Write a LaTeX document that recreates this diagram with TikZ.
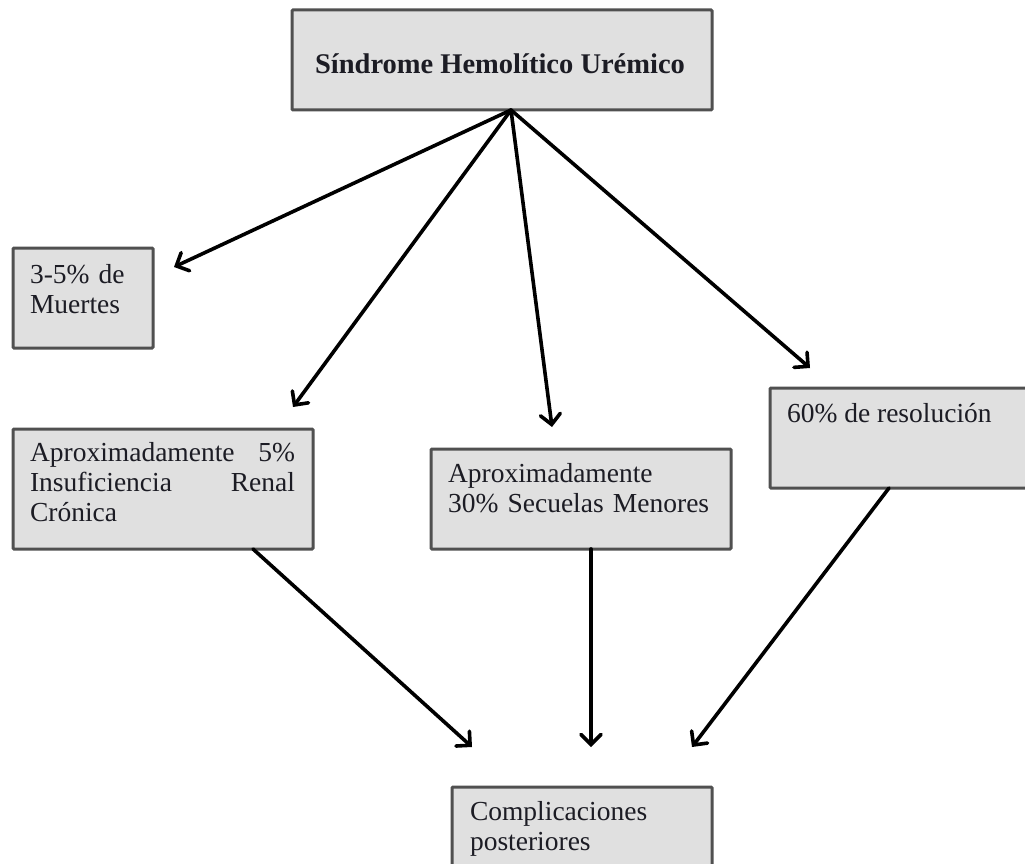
\documentclass[tikz,border=0pt]{standalone}
\usepackage{fontspec}
\setmainfont{Liberation Serif}
\usetikzlibrary{arrows.meta}
\definecolor{boxfill}{HTML}{E0E0E0}
\definecolor{boxline}{HTML}{505050}
\definecolor{txt}{HTML}{1C1C24}
\begin{document}
\begin{tikzpicture}[x=1pt,y=-1pt,
  box/.style={draw=boxline, fill=boxfill, line width=3pt, rectangle, inner sep=0pt, outer sep=0pt, anchor=north west, rounded corners=1pt},
  lbl/.style={anchor=base west, inner sep=0pt, outer sep=0pt, text=txt, font=\fontsize{27.5}{30}\selectfont, align=left},
  arr/.style={line width=3.6pt, line cap=round, -{Straight Barb[length=10pt,width=20pt,line cap=round]}}]
\useasboundingbox (0,0) rectangle (1025,864);
\clip (0,0) rectangle (1025,864);
\fill[white] (0,0) rectangle (1025,864);

% boxes
\node[box, minimum width=420pt, minimum height=100pt] (top) at (292,10) {};
\node[box, minimum width=140pt, minimum height=100pt] (muertes) at (13,248) {};
\node[box, minimum width=300pt, minimum height=120pt] (aprox) at (13,429) {};
\node[box, minimum width=300pt, minimum height=100pt] (secuelas) at (431,449) {};
\node[box, minimum width=300pt, minimum height=100pt] (resol) at (770,388) {};
\node[box, minimum width=260pt, minimum height=120pt] (compl) at (452,787) {};

% texts
\node[lbl, anchor=base, font=\fontsize{28.5}{30}\selectfont\bfseries] (ttop) at (500,74) {Síndrome Hemolítico Urémico};
\node[lbl, text width=120pt] (tmuertes) at (30,283) {3-5\% de\\Muertes};
\node[lbl, text width=265pt] (taprox) at (30,461) {\makebox[265pt][l]{Aproximadamente\hfill 5\%}\\\makebox[265pt][l]{Insuficiencia\hfill Renal}\\Crónica};
\node[lbl, text width=280pt] (tsecuelas) at (448,482) {Aproximadamente\\30\% Secuelas Menores};
\node[lbl] (tresol) at (787,422) {60\% de resolución};
\node[lbl, text width=240pt] (tcompl) at (470,820) {Complicaciones\\posteriores};

% free arrow ends
\coordinate (tipM) at (174,267);
\coordinate (tipA) at (293,407);
\coordinate (tipS) at (552,427);
\coordinate (tipR) at (810,368);
\coordinate (tipC1) at (472,747);
\coordinate (tipC2) at (591,747);
\coordinate (tipC3) at (692,747);

% connectors
\draw[arr] ([xshift=9pt]top.south) -- (tipM);
\draw[arr] ([xshift=9pt]top.south) -- (tipA);
\draw[arr] ([xshift=9pt]top.south) -- (tipS);
\draw[arr] ([xshift=9pt]top.south) -- (tipR);
\draw[arr] ([xshift=240pt]aprox.south west) -- (tipC1);
\draw[arr] ([xshift=160pt]secuelas.south west) -- (tipC2);
\draw[arr] ([xshift=119pt]resol.south west) -- (tipC3);
\end{tikzpicture}
\end{document}
